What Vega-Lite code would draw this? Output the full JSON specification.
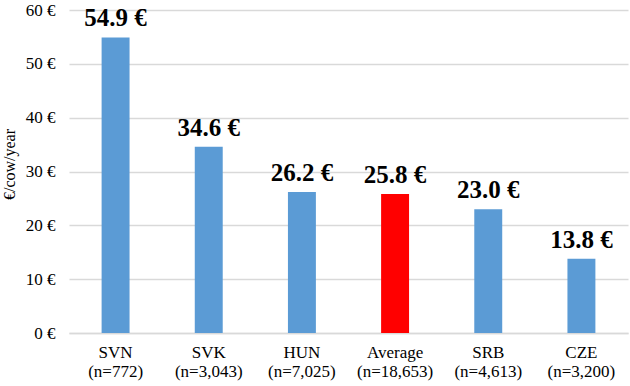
{
  "$schema": "https://vega.github.io/schema/vega-lite/v6.json",
  "width": 559,
  "height": 323,
  "autosize": {"type": "none"},
  "padding": {"left": 69, "top": 10, "right": 2, "bottom": 53},
  "background": "white",
  "config": {"view": {"stroke": null}, "font": "Liberation Serif"},
  "data": {"values": [
    {"label": "SVN (n=772)", "value": 54.9, "group": "country"},
    {"label": "SVK (n=3,043)", "value": 34.6, "group": "country"},
    {"label": "HUN (n=7,025)", "value": 26.2, "group": "country"},
    {"label": "Average (n=18,653)", "value": 25.8, "group": "average"},
    {"label": "SRB (n=4,613)", "value": 23.0, "group": "country"},
    {"label": "CZE (n=3,200)", "value": 13.8, "group": "country"}
  ]},
  "transform": [{"calculate": "format(datum.value, '.1f') + ' €'", "as": "text"}],
  "encoding": {
    "x": {
      "field": "label", "type": "nominal", "sort": null,
      "scale": {"paddingInner": 0.7, "paddingOuter": 0.35},
      "axis": {
        "title": null, "labelAngle": 0, "ticks": false,
        "domainColor": "#D9D9D9", "domainWidth": 1.3,
        "labelExpr": "split(datum.value, ' ')",
        "labelFont": "Liberation Serif", "labelFontSize": 17, "labelColor": "#000000",
        "labelPadding": 11, "labelLineHeight": 19
      }
    },
    "y": {
      "field": "value", "type": "quantitative",
      "scale": {"domain": [0, 60]},
      "axis": {
        "title": "€/cow/year", "values": [0, 10, 20, 30, 40, 50, 60],
        "labelExpr": "datum.value + ' €'",
        "domain": false, "ticks": false,
        "gridColor": "#D9D9D9", "gridWidth": 1.3,
        "labelFont": "Liberation Serif", "labelFontSize": 17, "labelColor": "#000000",
        "labelPadding": 14,
        "titleFont": "Liberation Serif", "titleFontSize": 16, "titleFontWeight": "normal", "titleColor": "#000000",
        "titleX": -55, "titleY": 154, "titleBaseline": "alphabetic", "titleAngle": -90
      }
    }
  },
  "layer": [
    {
      "mark": {"type": "bar"},
      "encoding": {
        "color": {
          "field": "group", "type": "nominal",
          "scale": {"domain": ["country", "average"], "range": ["#5B9BD5", "#FF0000"]},
          "legend": null
        }
      }
    },
    {
      "mark": {"type": "text", "baseline": "alphabetic", "dy": -11, "font": "Liberation Serif", "fontSize": 25, "fontWeight": "bold", "color": "#000000"},
      "encoding": {"text": {"field": "text", "type": "nominal"}}
    }
  ]
}
